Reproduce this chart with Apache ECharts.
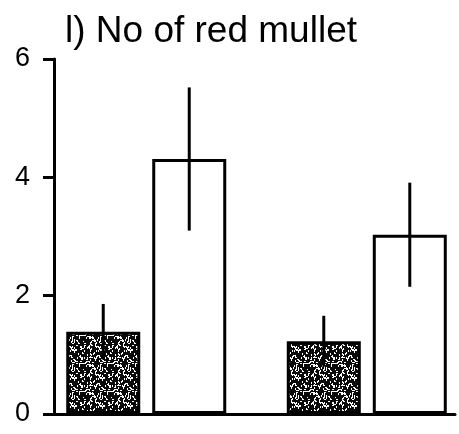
<!DOCTYPE html>
<html>
<head>
<meta charset="utf-8">
<script src="https://cdn.jsdelivr.net/npm/echarts@6/dist/echarts.min.js"></script>
<style>
  html, body { margin: 0; padding: 0; background: #fff; }
  #chart { width: 459px; height: 434px; }
</style>
</head>
<body>
<div id="chart"></div>
<script>
// two groups, each with a dark (stippled) bar and a white bar
const groups = [0, 1];
const darkMeans = [1.39, 1.23];
const darkErr = [0.47, 0.43];
const whiteMeans = [4.31, 3.03];
const whiteErr = [1.21, 0.88];
const yTicks = [0, 2, 4, 6];

const BAR_W = 74;
const BAR_GAP = 12; // px between the two bars of one group

// stipple texture for the dark bars (fixed speckle layout)
function makeStipple() {
  const c = document.createElement('canvas');
  c.width = 28; c.height = 28;
  const ctx = c.getContext('2d');
  ctx.fillStyle = '#0a0a0a';
  ctx.fillRect(0, 0, 28, 28);
  ctx.fillStyle = '#fff';
  let s = 7;
  for (let i = 0; i < 120; i++) {
    s = (s * 73 + 41) % 997;
    const x = s % 28;
    s = (s * 73 + 41) % 997;
    const y = s % 28;
    const horiz = (i % 3) === 0;
    ctx.fillRect(x, y, horiz ? 2 : 1, horiz ? 1 : 2);
  }
  return c;
}

const chart = echarts.init(document.getElementById('chart'));

const errData = [];
groups.forEach((g, i) => {
  errData.push([g, darkMeans[i], darkErr[i], -1]);
  errData.push([g, whiteMeans[i], whiteErr[i], 1]);
});

const option = {
  animation: false,
  backgroundColor: '#fff',
  title: {
    text: 'l) No of red mullet',
    left: 60,
    top: 8,
    textStyle: {
      fontFamily: 'Liberation Sans',
      fontSize: 37,
      fontWeight: 'normal',
      color: '#000'
    }
  },
  grid: {
    left: 47,
    right: 4,
    top: 59,
    bottom: 20
  },
  xAxis: {
    type: 'value',
    min: -0.45,
    max: 1.4,
    axisLine: { show: true, onZero: false, lineStyle: { color: '#000', width: 3 } },
    axisTick: { show: false },
    axisLabel: { show: false },
    splitLine: { show: false }
  },
  yAxis: {
    type: 'value',
    min: yTicks[0],
    max: yTicks[yTicks.length - 1],
    interval: 2,
    offset: -7,
    axisLine: { show: true, onZero: false, lineStyle: { color: '#000', width: 3 } },
    axisTick: { show: true, length: 11, lineStyle: { color: '#000', width: 3 } },
    axisLabel: {
      margin: 24,
      fontFamily: 'Liberation Sans',
      fontSize: 27,
      color: '#000'
    },
    splitLine: { show: false }
  },
  series: [
    {
      type: 'bar',
      data: groups.map((g, i) => [g, darkMeans[i]]),
      barWidth: BAR_W,
      barGap: (BAR_GAP / BAR_W * 100) + '%',
      itemStyle: {
        color: { image: makeStipple(), repeat: 'repeat' },
        borderColor: '#000',
        borderWidth: 3
      },
      z: 2
    },
    {
      type: 'bar',
      data: groups.map((g, i) => [g, whiteMeans[i]]),
      barWidth: BAR_W,
      barGap: (BAR_GAP / BAR_W * 100) + '%',
      itemStyle: {
        color: '#fff',
        borderColor: '#000',
        borderWidth: 3
      },
      z: 2
    },
    {
      type: 'custom',
      data: errData,
      z: 5,
      renderItem: function (params, api) {
        const g = api.value(0);
        const m = api.value(1);
        const e = api.value(2);
        const side = api.value(3);
        const shift = side * (BAR_W + BAR_GAP) / 2;
        const hi = api.coord([g, m + e]);
        const lo = api.coord([g, m - e]);
        return {
          type: 'line',
          shape: { x1: hi[0] + shift, y1: hi[1], x2: lo[0] + shift, y2: lo[1] },
          style: { stroke: '#000', lineWidth: 3 }
        };
      }
    }
  ]
};

chart.setOption(option);
</script>
</body>
</html>
